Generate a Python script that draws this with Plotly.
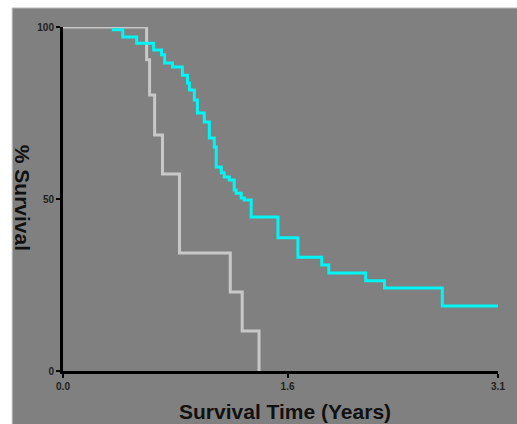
import plotly.graph_objects as go

# Data (time in years, % survival)
gray_time = [0.0, 0.596, 0.617, 0.653, 0.709, 0.830, 1.192, 1.277, 1.397]
gray_surv = [100, 90.5, 80.2, 68.6, 57.3, 34.3, 23.0, 11.6, 0]

cyan_time = [0.348, 0.426, 0.525, 0.646, 0.702, 0.724, 0.780, 0.851, 0.887, 0.901,
             0.936, 0.958, 1.007, 1.043, 1.078, 1.092, 1.128, 1.149, 1.185, 1.220,
             1.234, 1.270, 1.291, 1.341, 1.532, 1.674, 1.844, 1.894, 2.157, 2.291,
             2.703, 3.100]
cyan_surv = [99.2, 97.1, 95.3, 93.3, 91.9, 89.5, 88.4, 86.0, 83.7, 81.7,
             78.8, 75.0, 72.4, 67.7, 65.1, 59.3, 57.6, 56.4, 55.5, 52.6,
             51.7, 50.3, 49.7, 44.8, 38.7, 33.1, 30.8, 28.5, 26.2, 24.1,
             18.9, 18.9]

x_tickvals = [0.0, 1.6, 3.1]
x_ticktext = ["0.0", "1.6", "3.1"]
y_tickvals = [0, 50, 100]
y_ticktext = ["0", "50", "100"]

W, H = 517, 424
ml, mr, mt, mb = 63, 17, 27, 53
pw, ph = W - ml - mr, H - mt - mb

def px2paper_x(px):
    return (px - ml) / pw

def py2paper_y(py):
    return (H - mb - py) / ph

fig = go.Figure()
fig.add_trace(go.Scatter(x=gray_time, y=gray_surv, mode="lines", line_shape="hv",
                         line=dict(color="#c8c8c8", width=3), cliponaxis=False,
                         showlegend=False, hoverinfo="skip"))
fig.add_trace(go.Scatter(x=cyan_time, y=cyan_surv, mode="lines", line_shape="hv",
                         line=dict(color="#00f5f5", width=3), cliponaxis=False,
                         showlegend=False, hoverinfo="skip"))

fig.add_shape(type="rect", xref="paper", yref="paper",
              x0=px2paper_x(12), x1=px2paper_x(530),
              y0=py2paper_y(440), y1=py2paper_y(8),
              fillcolor="#808080", line=dict(color="#b8b8b8", width=1), layer="below")

tickfont = dict(family="Liberation Sans, Arial, sans-serif", size=10, color="#222222", weight="bold")
fig.update_xaxes(range=[0, 3.1], tickvals=x_tickvals, ticktext=x_ticktext,
                 showgrid=False, zeroline=False, showline=True, linecolor="black",
                 linewidth=3, ticks="outside", ticklen=4, tickwidth=2, tickcolor="black",
                 tickfont=tickfont, fixedrange=True)
fig.update_yaxes(range=[0, 100], tickvals=y_tickvals, ticktext=y_ticktext,
                 showgrid=False, zeroline=False, showline=True, linecolor="black",
                 linewidth=3, ticks="outside", ticklen=4, tickwidth=2, tickcolor="black",
                 tickfont=tickfont, fixedrange=True)

titlefont = dict(family="Liberation Sans, Arial, sans-serif", size=21, color="#111111", weight="bold")
fig.add_annotation(text="Survival Time (Years)", xref="paper", yref="paper",
                   x=px2paper_x(286), y=py2paper_y(411), showarrow=False,
                   font=titlefont, xanchor="center", yanchor="middle")
fig.add_annotation(text="% Survival", xref="paper", yref="paper",
                   x=px2paper_x(23), y=py2paper_y(198), showarrow=False,
                   font=titlefont, textangle=90, xanchor="center", yanchor="middle")

fig.update_layout(width=W, height=H, margin=dict(l=ml, r=mr, t=mt, b=mb, pad=0),
                  paper_bgcolor="white", plot_bgcolor="rgba(0,0,0,0)")

fig.write_html("out.html", config={"displayModeBar": False})
